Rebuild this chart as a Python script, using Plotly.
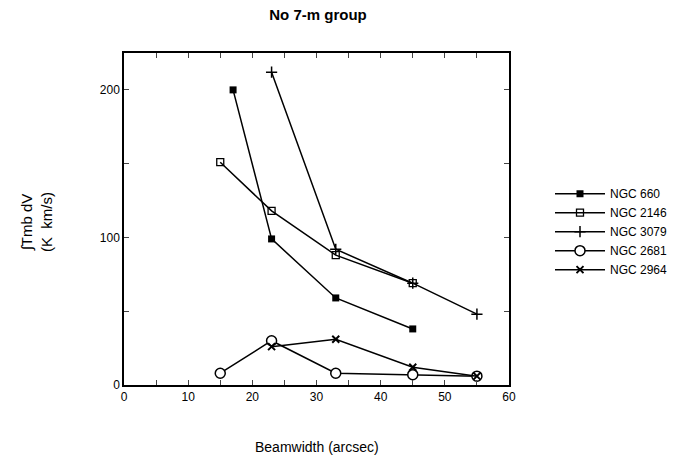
import plotly.graph_objects as go

names = ["NGC 660", "NGC 2146", "NGC 3079", "NGC 2681", "NGC 2964"]
x_660 = [17, 23, 33, 45]
y_660 = [200, 99, 59, 38]
x_2146 = [15, 23, 33, 45]
y_2146 = [151, 118, 88, 69]
x_3079 = [23, 33, 45, 55]
y_3079 = [212, 92, 69, 48]
x_2681 = [15, 23, 33, 45, 55]
y_2681 = [8, 30, 8, 7, 6]
x_2964 = [23, 33, 45, 55]
y_2964 = [26, 31, 12, 6]

xticks = list(range(0, 61, 5))
xtext = [str(v) if v % 10 == 0 else "" for v in xticks]
yticks = [0, 50, 100, 150, 200]
ytext = ["0", "", "100", "", "200"]

series = [
    (names[0], x_660, y_660, dict(symbol="square", size=7, color="black")),
    (names[1], x_2146, y_2146, dict(symbol="square-open", size=7, color="black", line=dict(width=1.3, color="black"))),
    (names[2], x_3079, y_3079, dict(symbol="cross-thin", size=8, color="black", line=dict(width=1.5, color="black"))),
    (names[3], x_2681, y_2681, dict(symbol="circle", size=10, color="white", line=dict(width=1.5, color="black"))),
    (names[4], x_2964, y_2964, dict(symbol="x-thin", size=7, color="black", line=dict(width=2, color="black"))),
]

fig = go.Figure()
for name, xs, ys, mk in series:
    fig.add_trace(go.Scatter(x=xs, y=ys, mode="lines+markers", name=name,
                             line=dict(color="black", width=1.5), marker=mk))

plot_w = 683 - 124 - 174
plot_h = 457 - 53 - 72

fig.update_layout(
    width=683, height=457,
    margin=dict(l=124, r=174, t=53, b=72, autoexpand=False),
    plot_bgcolor="white", paper_bgcolor="white",
    font=dict(family="Liberation Sans, Arial, sans-serif", size=12, color="black"),
    title=dict(text="<b>No 7-m group</b>", x=318/683, xanchor="center", y=1 - 15/457, yanchor="middle",
               font=dict(size=15)),
    showlegend=True,
    legend=dict(x=(550 - 124) / plot_w, y=0.62, xanchor="left", yanchor="top", font=dict(size=12),
                itemwidth=50, tracegroupgap=0, bgcolor="rgba(0,0,0,0)"),
)
fig.update_xaxes(range=[0, 60], tickvals=xticks, ticktext=xtext, ticks="inside", ticklen=5,
                 showline=True, linecolor="black", linewidth=1.5, mirror="ticks", showgrid=False,
                 zeroline=False, tickfont=dict(size=12))
fig.update_yaxes(range=[0, 225], tickvals=yticks, ticktext=ytext, ticks="inside", ticklen=5,
                 showline=True, linecolor="black", linewidth=1.5, mirror="ticks", showgrid=False,
                 zeroline=False, tickfont=dict(size=12))

fig.add_annotation(text="∫Tmb dV<br>(K  km/s)", xref="paper", yref="paper",
                   x=(36 - 124) / plot_w, y=(385 - 222) / plot_h, xanchor="center", yanchor="middle",
                   textangle=-90, showarrow=False, font=dict(size=15))
fig.add_annotation(text="Beamwidth (arcsec)", xref="paper", yref="paper",
                   x=0.5, y=-62 / plot_h, xanchor="center", yanchor="middle",
                   showarrow=False, font=dict(size=14))

fig.write_html("out.html")
